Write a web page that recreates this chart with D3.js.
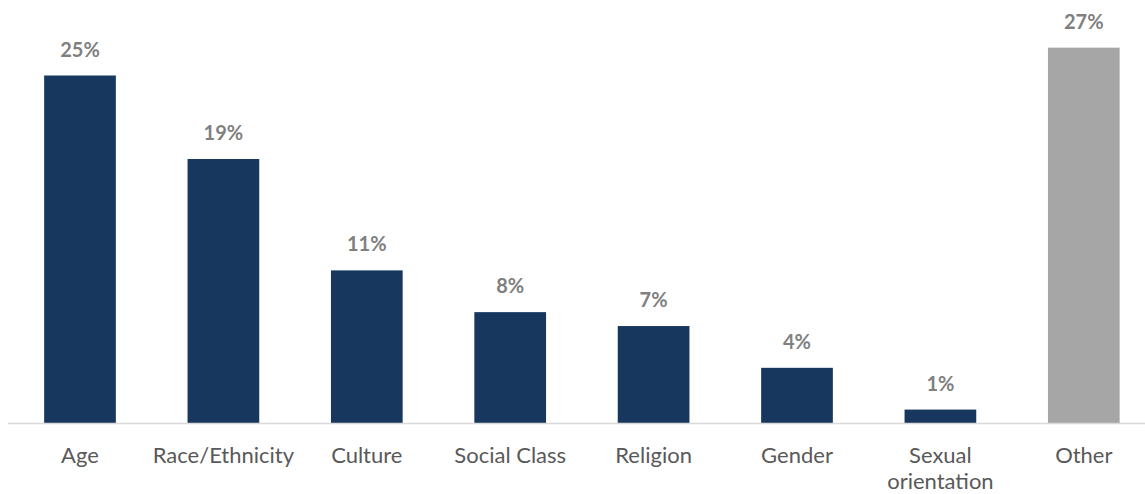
<!DOCTYPE html>
<html>
<head>
<meta charset="utf-8">
<script src="https://cdn.jsdelivr.net/npm/d3@7"></script>
<style>
  html, body { margin: 0; padding: 0; background: #fff; }
  svg { display: block; }
</style>
</head>
<body>
<svg id="chart" width="1145" height="494"></svg>
<script>
// Share of responses by category (percent)
const categories = ["Age", "Race/Ethnicity", "Culture", "Social Class", "Religion", "Gender", "Sexual orientation", "Other"];
const values = [25, 19, 11, 8, 7, 4, 1, 27];
const highlight = ["Other"];

const W = 1145, H = 494;
const svg = d3.select("#chart");

const x = d3.scaleBand()
  .domain(categories)
  .range([8.3, 1155.5])
  .paddingInner(0.5)
  .paddingOuter(0.25);

const y = d3.scaleLinear()
  .domain([0, 30])
  .range([423.5, 423.5 - 30 * 13.92]);

const FONT = "Lato, 'Open Sans', sans-serif";

// bars
svg.append("g")
  .selectAll("rect")
  .data(categories)
  .join("rect")
  .attr("x", d => x(d))
  .attr("width", x.bandwidth())
  .attr("y", (d, i) => y(values[i]))
  .attr("height", (d, i) => y(0) - y(values[i]))
  .attr("fill", d => highlight.includes(d) ? "#A6A6A6" : "#17375E");

// baseline
svg.append("line")
  .attr("x1", 8).attr("x2", W)
  .attr("y1", y(0)).attr("y2", y(0))
  .attr("stroke", "#D9D9D9")
  .attr("stroke-width", 1.5);

// value labels
svg.append("g")
  .selectAll("text")
  .data(categories)
  .join("text")
  .attr("x", d => x(d) + x.bandwidth() / 2)
  .attr("y", (d, i) => y(values[i]) - 19)
  .attr("text-anchor", "middle")
  .attr("font-family", FONT)
  .attr("font-weight", 700)
  .attr("font-size", 20)
  .attr("fill", "#808080")
  .text((d, i) => values[i] + "%");

// category labels (wrapped to fit the band)
const xAxis = d3.axisBottom(x).tickSize(0).tickPadding(0);
const axisG = svg.append("g")
  .attr("transform", `translate(0,${y(0)})`)
  .call(xAxis);
axisG.select(".domain").remove();
axisG.selectAll(".tick text").remove();
axisG.selectAll(".tick").each(function(d) {
  const words = d === "Sexual orientation" ? ["Sexual", "orientation"] : [d];
  const t = d3.select(this).append("text")
    .attr("text-anchor", "middle")
    .attr("font-family", FONT)
    .attr("font-size", 22)
    .attr("fill", "#595959");
  words.forEach((w, i) => {
    t.append("tspan").attr("x", 0).attr("y", 39 + i * 26).text(w);
  });
});
</script>
</body>
</html>
